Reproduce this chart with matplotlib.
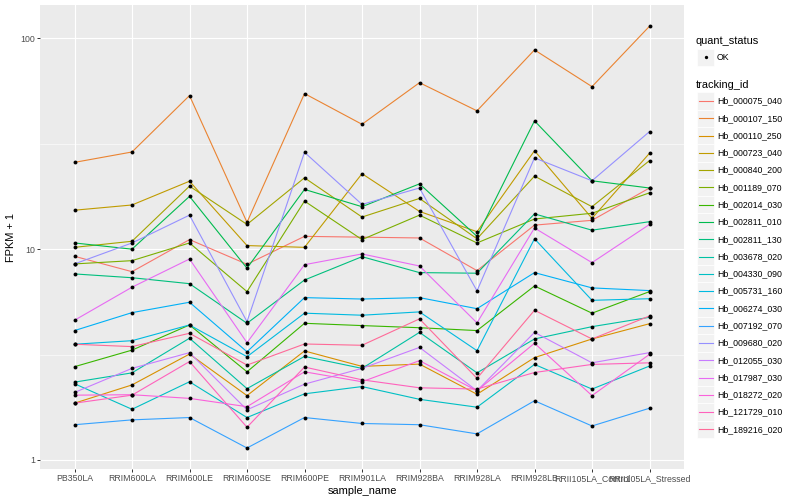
import matplotlib
matplotlib.use("Agg")
import matplotlib.pyplot as plt
from matplotlib.patches import Rectangle
from matplotlib.lines import Line2D
from matplotlib.transforms import Affine2D
import numpy as np

samples = ["PB350LA", "RRIM600LA", "RRIM600LE", "RRIM600SE", "RRIM600PE",
           "RRIM901LA", "RRIM928BA", "RRIM928LA", "RRIM928LB",
           "RRII105LA_Control", "RRII105LA_Stressed"]

tracking_ids = ["Hb_000075_040", "Hb_000107_150", "Hb_000110_250", "Hb_000723_040",
                "Hb_000840_200", "Hb_001189_070", "Hb_002014_030", "Hb_002811_010",
                "Hb_002811_130", "Hb_003678_020", "Hb_004330_090", "Hb_005731_160",
                "Hb_006274_030", "Hb_007192_070", "Hb_009680_020", "Hb_012055_030",
                "Hb_017987_030", "Hb_018272_020", "Hb_121729_010", "Hb_189216_020"]

# FPKM + 1, one list per gene, in the order of samples
hb_000075_040 = [9.25, 7.82, 11.1, 8.48, 11.5, 11.4, 11.3, 7.91, 13.0, 13.7, 19.5]
hb_000107_150 = [25.8, 28.9, 53.5, 13.4, 54.7, 39.1, 61.6, 45.3, 88.1, 59.0, 114.1]
hb_000110_250 = [1.86, 2.27, 3.18, 2.02, 3.29, 2.78, 2.85, 2.05, 3.06, 3.75, 4.43]
hb_000723_040 = [15.3, 16.2, 21.0, 10.4, 10.2, 22.8, 15.1, 12.1, 29.3, 14.0, 28.5]
hb_000840_200 = [10.2, 10.9, 19.9, 13.1, 21.8, 14.2, 17.4, 11.2, 22.2, 15.9, 26.3]
hb_001189_070 = [8.51, 8.82, 10.7, 6.29, 16.9, 11.1, 14.5, 10.7, 13.9, 14.8, 18.5]
hb_002014_030 = [2.77, 3.32, 4.37, 2.62, 4.45, 4.34, 4.24, 4.11, 6.69, 4.97, 6.29]
hb_002811_010 = [10.7, 10.0, 17.8, 8.12, 19.2, 15.9, 20.4, 11.5, 40.6, 21.1, 19.5]
hb_002811_130 = [7.63, 7.32, 6.86, 4.45, 7.14, 9.21, 7.74, 7.69, 14.7, 12.3, 13.5]
hb_003678_020 = [2.34, 2.59, 3.78, 2.18, 3.10, 2.72, 4.03, 2.59, 3.75, 4.29, 4.75]
hb_004330_090 = [2.30, 1.74, 2.35, 1.59, 2.06, 2.23, 1.94, 1.78, 2.84, 2.17, 2.79]
hb_005731_160 = [3.54, 3.68, 4.37, 3.09, 4.97, 4.86, 5.04, 3.30, 11.2, 5.72, 5.82]
hb_006274_030 = [4.11, 5.00, 5.60, 3.26, 5.89, 5.80, 5.89, 5.22, 7.74, 6.55, 6.36]
hb_007192_070 = [1.47, 1.55, 1.59, 1.14, 1.59, 1.49, 1.47, 1.33, 1.91, 1.45, 1.76]
hb_009680_020 = [8.51, 10.7, 14.5, 4.53, 28.8, 16.3, 19.5, 6.34, 27.1, 21.1, 36.1]
hb_012055_030 = [2.09, 2.72, 3.23, 1.73, 2.29, 2.72, 3.42, 2.13, 4.03, 2.89, 3.23]
hb_017987_030 = [4.60, 6.60, 8.98, 3.60, 8.44, 9.49, 8.32, 4.47, 12.6, 8.63, 13.1]
hb_018272_020 = [2.03, 2.04, 1.96, 1.79, 2.62, 2.35, 2.96, 2.13, 3.58, 2.02, 3.17]
hb_121729_010 = [1.86, 2.03, 2.93, 1.43, 2.76, 2.40, 2.20, 2.17, 2.60, 2.84, 2.89]
hb_189216_020 = [3.54, 3.45, 3.99, 2.82, 3.55, 3.50, 4.67, 2.44, 5.13, 3.75, 4.82]

series = [hb_000075_040, hb_000107_150, hb_000110_250, hb_000723_040, hb_000840_200,
          hb_001189_070, hb_002014_030, hb_002811_010, hb_002811_130, hb_003678_020,
          hb_004330_090, hb_005731_160, hb_006274_030, hb_007192_070, hb_009680_020,
          hb_012055_030, hb_017987_030, hb_018272_020, hb_121729_010, hb_189216_020]


def hcl_to_hex(h, c=100, l=65):
    # polarLUV -> sRGB, like ggplot's hue palette
    xn, yn, zn = 95.047, 100.0, 108.883
    u = c * np.cos(np.radians(h))
    v = c * np.sin(np.radians(h))
    y = yn * ((l + 16) / 116) ** 3
    d = xn + 15 * yn + 3 * zn
    up = u / (13 * l) + 4 * xn / d
    vp = v / (13 * l) + 9 * yn / d
    x = 9 * y * up / (4 * vp)
    z = y * (12 - 3 * up - 20 * vp) / (4 * vp)
    x, y, z = x / 100, y / 100, z / 100
    rgb = [3.240479 * x - 1.537150 * y - 0.498535 * z,
           -0.969256 * x + 1.875992 * y + 0.041556 * z,
           0.055648 * x - 0.204043 * y + 1.057311 * z]
    out = []
    for ch in rgb:
        ch = 12.92 * ch if ch <= 0.0031308 else 1.055 * ch ** (1 / 2.4) - 0.055
        out.append(min(max(ch, 0), 1))
    return tuple(out)


n = len(tracking_ids)
colors = [hcl_to_hex(h) for h in np.linspace(15, 375 - 360 / n, n)]

plt.rcParams['font.family'] = ['Liberation Sans', 'DejaVu Sans']

fig = plt.figure(figsize=(8, 5), dpi=100)
ax = fig.add_axes([40 / 800, 1 - 469 / 500, 644 / 800, 464 / 500])
ax.set_facecolor('#EBEBEB')
for s in ax.spines.values():
    s.set_visible(False)

x = np.arange(len(samples))
for vals, col in zip(series, colors):
    ax.plot(x, vals, color=col, lw=0.8, zorder=2)
for vals in series:
    ax.plot(x, vals, 'o', color='black', ms=2.8, mew=0, zorder=3)

ax.set_yscale('log')
ax.set_ylim(10 ** -0.0427, 10 ** 2.158)
ax.set_xlim(-0.6, len(samples) - 0.4)
ax.set_yticks([1, 10, 100])
ax.set_yticklabels(['1', '10', '100'])
ax.set_yticks([10 ** 0.5, 10 ** 1.5], minor=True)
ax.yaxis.set_minor_formatter(plt.NullFormatter())
ax.set_xticks(x)
ax.set_xticklabels(samples)
ax.grid(True, which='major', color='white', lw=0.8, zorder=0)
ax.grid(True, which='minor', axis='y', color='white', lw=0.4, zorder=0)
ax.set_axisbelow(True)
ax.tick_params(which='major', length=2, width=0.7, color='#333333',
               labelsize=6.3, labelcolor='#4D4D4D', pad=1.6)
ax.tick_params(which='minor', length=0)
ax.set_xlabel('sample_name', fontsize=7.9, labelpad=2)
ax.set_ylabel('FPKM + 1', fontsize=7.9, labelpad=3)

# legends, placed in pixel coordinates (y down)
px = Affine2D().scale(1 / 800, -1 / 500).translate(0, 1) + fig.transFigure
key = 17.28
fig.text(696, 41, 'quant_status', transform=px, fontsize=7.9, va='center')
fig.patches.append(Rectangle((697, 48.5), key, key, transform=px,
                             facecolor='#F2F2F2', edgecolor='white', lw=0.5))
fig.lines.append(Line2D([697 + key / 2], [48.5 + key / 2], transform=px,
                        marker='o', color='black', ms=2.4, mew=0))
fig.text(717, 57.3, 'OK', transform=px, fontsize=6.3, va='center')

fig.text(696, 84.5, 'tracking_id', transform=px, fontsize=7.9, va='center')
top = 92.4
for i, (name, col) in enumerate(zip(tracking_ids, colors)):
    y0 = top + i * key
    fig.patches.append(Rectangle((697, y0), key, key, transform=px,
                                 facecolor='#F2F2F2', edgecolor='white', lw=0.5))
    fig.lines.append(Line2D([698.7, 712.6], [y0 + key / 2] * 2, transform=px,
                            color=col, lw=0.8))
    fig.text(717, y0 + key / 2, name, transform=px, fontsize=6.3, va='center')

fig.savefig('out.png', dpi=100)
